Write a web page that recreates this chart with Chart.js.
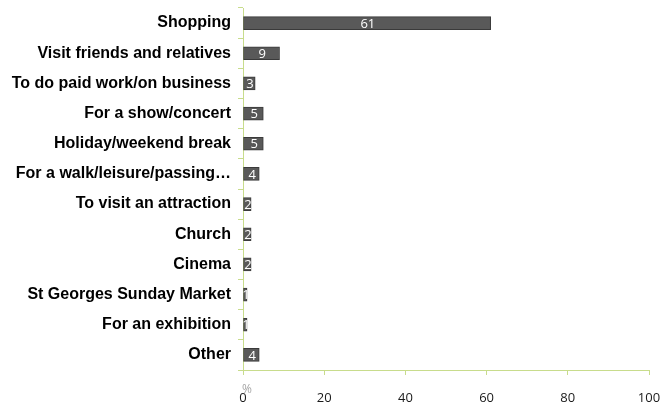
<!DOCTYPE html>
<html>
<head>
<meta charset="utf-8">
<script src="https://cdn.jsdelivr.net/npm/chart.js@4/dist/chart.umd.min.js"></script>
<style>
  html, body { margin: 0; padding: 0; background: #ffffff; }
  #wrap { width: 664px; height: 405px; position: relative; }
</style>
</head>
<body>
<div id="wrap"><canvas id="c"></canvas></div>
<script>
const categories = [
  'Shopping',
  'Visit friends and relatives',
  'To do paid work/on business',
  'For a show/concert',
  'Holiday/weekend break',
  'For a walk/leisure/passing…',
  'To visit an attraction',
  'Church',
  'Cinema',
  'St Georges Sunday Market',
  'For an exhibition',
  'Other'
];
const percentages = [61, 9, 3, 5, 5, 4, 2, 2, 2, 1, 1, 4];
const xTicks = [0, 20, 40, 60, 80, 100];
const axisTitle = '%';

const axisGreen = '#c8dc8c';

// White value labels centred inside each bar
const valueLabels = {
  id: 'valueLabels',
  afterDatasetsDraw(chart) {
    const ctx = chart.ctx;
    const meta = chart.getDatasetMeta(0);
    const x0 = chart.scales.x.getPixelForValue(0);
    ctx.save();
    ctx.font = '13px "Open Sans", "DejaVu Sans", sans-serif';
    ctx.fillStyle = '#ffffff';
    ctx.textAlign = 'center';
    ctx.textBaseline = 'middle';
    meta.data.forEach((bar, i) => {
      ctx.fillText(String(percentages[i]), (bar.x + x0) / 2 + 1, bar.y + 1);
    });
    ctx.restore();
  }
};

// Small grey unit label sitting over the zero tick
const unitLabel = {
  id: 'unitLabel',
  afterDraw(chart) {
    const ctx = chart.ctx;
    const xs = chart.scales.x;
    ctx.save();
    ctx.font = '12px "Open Sans", "DejaVu Sans", sans-serif';
    ctx.fillStyle = '#a6a6a6';
    ctx.textAlign = 'center';
    ctx.textBaseline = 'middle';
    ctx.fillText(axisTitle, xs.getPixelForValue(0) + 4, xs.top + 20);
    ctx.restore();
  }
};

new Chart(document.getElementById('c'), {
  type: 'bar',
  data: {
    labels: categories,
    datasets: [{
      data: percentages,
      backgroundColor: '#595959',
      borderColor: '#3a3a3a',
      borderWidth: 1,
      borderSkipped: false,
      barThickness: 13
    }]
  },
  options: {
    indexAxis: 'y',
    responsive: true,
    maintainAspectRatio: false,
    animation: false,
    layout: { padding: { top: 8, right: 15, bottom: 0, left: 0 } },
    plugins: {
      legend: { display: false },
      tooltip: { enabled: false }
    },
    scales: {
      x: {
        min: 0,
        max: 100,
        afterBuildTicks: (s) => { s.ticks = xTicks.map(v => ({ value: v })); },
        afterFit: (s) => { s.height = 35; s.paddingLeft = 0; s.paddingRight = 0; },
        grid: {
          drawOnChartArea: false,
          drawTicks: true,
          tickLength: 5,
          color: axisGreen,
          lineWidth: 1
        },
        border: { color: axisGreen, width: 1 },
        ticks: {
          padding: 15,
          color: '#1a1a1a',
          font: { family: '"Open Sans", "DejaVu Sans", sans-serif', size: 13 }
        }
      },
      y: {
        afterFit: (s) => { s.width = 243; s.paddingTop = 0; s.paddingBottom = 0; },
        grid: {
          offset: true,
          drawOnChartArea: false,
          drawTicks: true,
          tickLength: 5,
          color: axisGreen,
          lineWidth: 1
        },
        border: { color: axisGreen, width: 1 },
        ticks: {
          padding: 7,
          color: '#000000',
          font: { family: '"Liberation Sans", Arial, sans-serif', size: 16, weight: 'bold' }
        }
      }
    }
  },
  plugins: [valueLabels, unitLabel]
});
</script>
</body>
</html>
